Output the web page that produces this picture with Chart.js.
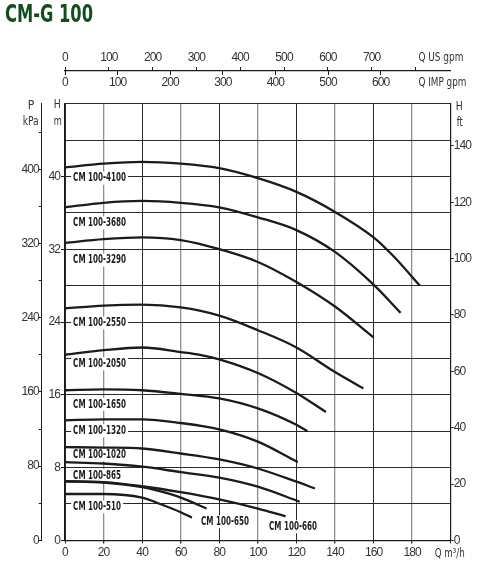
<!DOCTYPE html>
<html>
<head>
<meta charset="utf-8">
<script src="https://cdn.jsdelivr.net/npm/chart.js@4.4.1/dist/chart.umd.min.js"></script>
<style>
  html, body { margin: 0; padding: 0; background: #fff; }
  #wrap { width: 479px; height: 569px; }
</style>
</head>
<body>
<div id="wrap"><canvas id="pumpChart" width="479" height="569"></canvas></div>
<script>
/* ── CM-G 100 pump curves ── */
const INK = '#1b1b1b';
const TXT = '#333333';
const NARROW = "'Liberation Sans Narrow', 'DejaVu Sans Condensed', sans-serif";

/* flow Q (m3/h) and head H (m) */
const flow4100 = [0, 20, 40, 60, 80, 100, 120, 140, 160, 170, 184];
const head4100 = [41.0, 41.4, 41.6, 41.4, 40.9, 39.8, 38.3, 36.1, 33.3, 31.3, 28.0];
const flow3680 = [0, 20, 40, 60, 80, 100, 120, 140, 160, 174];
const head3680 = [36.6, 37.1, 37.3, 37.1, 36.6, 35.5, 34.1, 31.7, 28.1, 25.0];
const flow3290 = [0, 20, 40, 60, 80, 100, 120, 140, 160];
const head3290 = [32.7, 33.1, 33.3, 33.0, 32.0, 30.6, 28.4, 25.7, 22.3];
const flow2550 = [0, 20, 40, 60, 80, 100, 120, 140, 154.7];
const head2550 = [25.5, 25.8, 25.9, 25.6, 24.7, 23.1, 21.2, 18.5, 16.7];
const flow2050 = [0, 20, 40, 60, 70, 80, 100, 120, 135.3];
const head2050 = [20.4, 20.9, 21.2, 20.7, 20.4, 19.9, 18.4, 16.2, 14.1];
const flow1650 = [0, 20, 40, 60, 80, 100, 120, 125.7];
const head1650 = [16.5, 16.6, 16.5, 16.1, 15.6, 14.5, 12.7, 12.0];
const flow1320 = [0, 20, 40, 60, 80, 100, 120.7];
const head1320 = [13.2, 13.3, 13.3, 12.9, 12.2, 10.85, 8.6];
const flow1020 = [0, 20, 40, 60, 80, 100, 120, 129.6];
const head1020 = [10.25, 10.2, 10.1, 9.55, 8.9, 7.9, 6.45, 5.7];
const flow865 = [0, 20, 40, 60, 80, 100, 121.7];
const head865 = [8.6, 8.45, 8.1, 7.5, 6.9, 5.9, 4.25];
const flow660 = [0, 20, 40, 60, 80, 100, 114.4];
const head660 = [6.5, 6.4, 5.95, 5.3, 4.5, 3.5, 2.65];
const flow650 = [0, 20, 40, 50, 60, 73.4];
const head650 = [6.5, 6.35, 5.85, 5.35, 4.7, 3.5];
const flow510 = [0, 20, 40, 50, 60, 65.8];
const head510 = [5.1, 5.1, 4.7, 3.95, 3.1, 2.5];

const models = ['CM 100-4100', 'CM 100-3680', 'CM 100-3290', 'CM 100-2550', 'CM 100-2050', 'CM 100-1650',
  'CM 100-1320', 'CM 100-1020', 'CM 100-865', 'CM 100-660', 'CM 100-650', 'CM 100-510'];
const flows = [flow4100, flow3680, flow3290, flow2550, flow2050, flow1650, flow1320, flow1020, flow865, flow660, flow650, flow510];
const heads = [head4100, head3680, head3290, head2550, head2050, head1650, head1320, head1020, head865, head660, head650, head510];

/* where each model name sits, in (Q, H) */
const labelQ = [4.2, 4.2, 4.2, 4.2, 4.2, 4.2, 4.2, 4.2, 4.2, 105.8, 70.5, 4.2];
const labelH = [39.8, 34.9, 30.8, 23.9, 19.4, 14.95, 12.05, 9.4, 7.15, 1.5, 2.05, 3.7];

/* axis ranges and unit conversions */
const Q_MAX = 200, H_MAX = 48;
const KPA_PER_M = 9.80665;
const US_GPM_M3H = 0.2271247, IMP_GPM_M3H = 0.2727654;
const FT_MAX = 155;

/* squeeze a string into a given width (the original type is very condensed) */
function squeezedText(ctx, str, x, y, width) {
  const k = Math.min(1, width / ctx.measureText(str).width);
  ctx.save();
  ctx.translate(x, y);
  ctx.scale(k, 1);
  ctx.textAlign = 'left';
  ctx.fillText(str, 0, 0);
  ctx.restore();
}

/* tighter tick numbers */
const tightTicks = {
  id: 'tightTicks',
  beforeDraw(chart) { chart.ctx.letterSpacing = '-0.9px'; },
  beforeDatasetsDraw(chart) { chart.ctx.letterSpacing = '0px'; },
};

/* Model names with white box */
const modelLabels = {
  id: 'modelLabels',
  beforeDatasetsDraw(chart) {
    const { ctx, scales: { x, y } } = chart;
    ctx.save();
    ctx.letterSpacing = '0px';
    ctx.font = `bold 12.5px ${NARROW}`;
    ctx.textBaseline = 'middle';
    const k = 53 / ctx.measureText('CM 100-4100').width;
    models.forEach((m, i) => {
      const px = x.getPixelForValue(labelQ[i]);
      const py = y.getPixelForValue(labelH[i]);
      const w = ctx.measureText(m).width * k;
      ctx.fillStyle = '#fff';
      ctx.fillRect(px - 2, py - 6.5, w + 4, 13);
      ctx.fillStyle = INK;
      squeezedText(ctx, m, px, py, w);
    });
    ctx.restore();
  }
};

/* Title and unit captions around the axes */
const unitCaptions = {
  id: 'unitCaptions',
  afterDraw(chart) {
    const { ctx, chartArea: a, scales } = chart;
    ctx.save();
    ctx.letterSpacing = '0px';
    ctx.textBaseline = 'middle';
    ctx.font = `bold 24px ${NARROW}`;
    ctx.fillStyle = '#124d1e';
    squeezedText(ctx, 'CM-G 100', 5, 16, 88);

    ctx.fillStyle = TXT;
    ctx.font = `12px ${NARROW}`;
    const kx = scales.kpa.left + (scales.kpa.right - scales.kpa.left) * 0.7;
    squeezedText(ctx, 'P', kx - 3, a.top + 2.5, 8);
    squeezedText(ctx, 'kPa', kx - 8, a.top + 18, 16);
    const mx = scales.y.left + 12;
    squeezedText(ctx, 'H', mx, a.top + 1.5, 7);
    squeezedText(ctx, 'm', mx, a.top + 18.5, 8);
    squeezedText(ctx, 'H', a.right + 5, a.top + 3, 7);
    squeezedText(ctx, 'ft', a.right + 6, a.top + 19.5, 6);
    const gx = scales.us.getPixelForValue(800) + 3;
    squeezedText(ctx, 'Q US gpm', gx, scales.us.bottom - 13.5, 45);
    squeezedText(ctx, 'Q IMP gpm', gx, scales.us.bottom + 12, 48);
    squeezedText(ctx, 'Q m\u00b3/h', a.right - 16, scales.x.top + 13, 30);
    ctx.restore();
  }
};

const gridOff = { drawOnChartArea: false };

new Chart(document.getElementById('pumpChart'), {
  type: 'line',
  data: {
    datasets: models.map((m, i) => ({
      label: m,
      data: flows[i].map((q, j) => ({ x: q, y: heads[i][j] })),
      borderColor: INK, borderWidth: 2.3, pointRadius: 0,
      cubicInterpolationMode: 'monotone', fill: false,
    }))
  },
  options: {
    responsive: false, animation: false,
    layout: { padding: { left: 5, right: 0, top: 30.8, bottom: 0 } },
    font: { family: NARROW, size: 12 },
    plugins: { legend: { display: false }, tooltip: { enabled: false }, title: { display: false } },
    scales: {
      x: { type: 'linear', position: 'bottom', min: 0, max: Q_MAX,
        afterFit: s => { s.height = 28.6; },
        ticks: { stepSize: 20, color: TXT, padding: 2, maxRotation: 0, autoSkip: false,
          callback: v => v === Q_MAX ? '' : v },
        grid: { tickLength: 3, tickColor: INK,
          color: c => (c.tick && (c.tick.value / 20) % 2 === 1) ? '#8e8e8e' : '#2a2a2a',
          lineWidth: c => (c.tick && (c.tick.value / 20) % 2 === 1) ? 1.3 : 1 },
        border: { color: INK, width: 1.2 } },
      y: { type: 'linear', position: 'left', weight: 1, min: 0, max: H_MAX,
        afterFit: s => { s.width = 23.3; },
        ticks: { stepSize: 4, color: TXT, padding: 1, callback: v => (v % 8 === 0 && v < H_MAX) ? v : '' },
        grid: { color: '#2a2a2a', tickLength: 4,
          tickColor: c => (c.tick && c.tick.value % 8 === 0 && c.tick.value < H_MAX) ? INK : 'rgba(0,0,0,0)' },
        border: { color: INK, width: 1.2 } },
      kpa: { type: 'linear', position: 'left', weight: 2, min: 0, max: H_MAX * KPA_PER_M,
        afterFit: s => { s.width = 36.7; },
        ticks: { stepSize: 40, includeBounds: false, color: TXT, padding: 0,
          callback: v => v % 80 === 0 ? v : '' },
        grid: { ...gridOff, tickLength: 3, tickColor: INK },
        border: { color: INK, width: 1 } },
      ft: { type: 'linear', position: 'right', min: 0, max: FT_MAX,
        afterFit: s => { s.width = 28.3; },
        ticks: { stepSize: 20, includeBounds: false, color: TXT, padding: 0 },
        grid: { ...gridOff, tickLength: 3, tickColor: INK },
        border: { color: INK, width: 1.2 } },
      us: { type: 'linear', axis: 'x', position: 'top', weight: 3, min: 0, max: Q_MAX / US_GPM_M3H,
        afterFit: s => { s.height = 40.2; },
        ticks: { stepSize: 100, includeBounds: false, color: TXT, padding: 2.5, maxRotation: 0, autoSkip: false,
          callback: v => v === 800 ? '' : v },
        grid: { ...gridOff, tickLength: 4, tickColor: INK },
        border: { color: INK, width: 1.2 } },
      imp: { type: 'linear', axis: 'x', position: 'top', weight: 2, min: 0, max: Q_MAX / IMP_GPM_M3H,
        afterFit: s => { s.height = 0; },
        ticks: { stepSize: 100, includeBounds: false, color: TXT, mirror: true, padding: 4.5, maxRotation: 0, autoSkip: false,
          callback: v => v === 700 ? '' : v },
        grid: { ...gridOff, tickLength: -4,
          tickColor: c => (c.tick && c.tick.value === 700) ? 'rgba(0,0,0,0)' : INK },
        border: { display: false } },
      gap: { type: 'linear', axis: 'x', position: 'top', weight: 1, min: 0, max: 1,
        afterFit: s => { s.height = 32.6; },
        ticks: { display: false }, grid: { display: false }, border: { display: false } },
    }
  },
  plugins: [tightTicks, modelLabels, unitCaptions]
});
</script>
</body>
</html>
